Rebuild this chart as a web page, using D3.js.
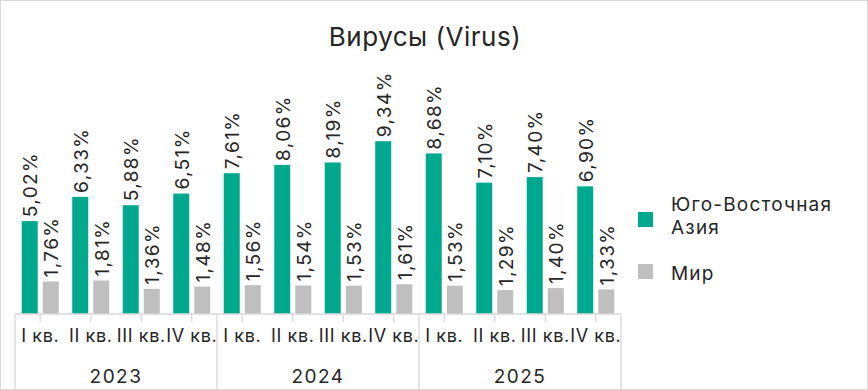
<!DOCTYPE html>
<html>
<head>
<meta charset="utf-8">
<script src="https://cdn.jsdelivr.net/npm/d3@7"></script>
<style>
  body { margin: 0; background: #fff; }
  svg text { font-family: Inter, "Noto Sans", sans-serif; fill: #262626; }
</style>
</head>
<body>
<div id="chart"></div>
<script>
// данные
const years = ["2023", "2024", "2025"];
const quarters = ["I кв.", "II кв.", "III кв.", "IV кв."];
const seaValues = [5.02, 6.33, 5.88, 6.51, 7.61, 8.06, 8.19, 9.34, 8.68, 7.10, 7.40, 6.90];
const worldValues = [1.76, 1.81, 1.36, 1.48, 1.56, 1.54, 1.53, 1.61, 1.53, 1.29, 1.40, 1.33];
const seriesNames = ["Юго-Восточная Азия", "Мир"];
const colors = ["#00a88e", "#bfbfbf"];

const W = 868, H = 390;
const baseY = 314;

// категории: год + квартал
const cats = [];
years.forEach((y, yi) => quarters.forEach((q, qi) => cats.push({ id: y + "-" + qi, year: y, q: q, i: yi * 4 + qi })));

const svg = d3.select("#chart").append("svg")
  .attr("width", W).attr("height", H);

svg.append("rect")
  .attr("x", 0.5).attr("y", 0.5).attr("width", W - 1).attr("height", H - 1)
  .attr("fill", "#fff").attr("stroke", "#d9d9d9");

// заголовок
svg.append("text")
  .attr("x", 425).attr("y", 46)
  .attr("text-anchor", "middle")
  .style("font-size", "26px")
  .style("letter-spacing", "0.5px")
  .text("Вирусы (Virus)");

const x0 = d3.scaleBand().domain(cats.map(c => c.id)).range([15, 621]);
const x1 = d3.scaleBand().domain([0, 1]).range([0, x0.bandwidth()])
  .paddingInner(0.24).paddingOuter(0.32);
const y = d3.scaleLinear().domain([0, 10]).range([baseY, 129]);

const fmt = v => d3.format(".2f")(v).replace(".", ",") + "%";

const groups = svg.append("g").selectAll("g")
  .data(cats).join("g")
  .attr("transform", d => `translate(${x0(d.id)},0)`);

const barData = d => [
  { s: 0, v: seaValues[d.i] },
  { s: 1, v: worldValues[d.i] }
];

groups.selectAll("rect")
  .data(barData).join("rect")
  .attr("x", d => x1(d.s))
  .attr("y", d => y(d.v))
  .attr("width", x1.bandwidth())
  .attr("height", d => baseY - y(d.v))
  .attr("fill", d => colors[d.s]);

groups.selectAll("text.val")
  .data(barData).join("text")
  .attr("class", "val")
  .attr("transform", d => `translate(${x1(d.s) + x1.bandwidth() / 2 + 0.5},${y(d.v) - 4}) rotate(-90)`)
  .attr("dy", "0.36em")
  .style("font-size", "19px")
  .style("letter-spacing", "1.4px")
  .text(d => fmt(d.v));

// ось
const axisG = svg.append("g").attr("stroke", "#d9d9d9").attr("stroke-width", 1.3);
axisG.append("line")
  .attr("x1", 15).attr("x2", 621).attr("y1", baseY).attr("y2", baseY);
// засечки по центру категорий
axisG.selectAll("line.tick")
  .data(cats).join("line")
  .attr("class", "tick")
  .attr("x1", d => x0(d.id) + x0.bandwidth() / 2)
  .attr("x2", d => x0(d.id) + x0.bandwidth() / 2)
  .attr("y1", baseY).attr("y2", baseY + 8);
// разделители лет
axisG.selectAll("line.sep")
  .data(d3.range(years.length + 1)).join("line")
  .attr("class", "sep")
  .attr("x1", i => i < years.length ? x0(cats[i * 4].id) : x0.range()[1])
  .attr("x2", i => i < years.length ? x0(cats[i * 4].id) : x0.range()[1])
  .attr("y1", baseY).attr("y2", H);

svg.append("g").selectAll("text")
  .data(cats).join("text")
  .attr("x", d => x0(d.id) + x0.bandwidth() / 2)
  .attr("y", 342)
  .attr("text-anchor", "middle")
  .style("font-size", "18px")
  .style("letter-spacing", "0.6px")
  .text(d => d.q);

svg.append("g").selectAll("text")
  .data(years).join("text")
  .attr("x", (d, i) => x0(cats[i * 4].id) + x0.bandwidth() * 2)
  .attr("y", 383)
  .attr("text-anchor", "middle")
  .style("font-size", "19px")
  .style("letter-spacing", "1.5px")
  .text(d => d);

// легенда
const legend = svg.append("g").style("font-size", "19px").style("letter-spacing", "1.2px");
legend.append("rect").attr("x", 638).attr("y", 212).attr("width", 15).attr("height", 15).attr("fill", colors[0]);
legend.append("text").attr("x", 671).attr("y", 211).text("Юго-Восточная");
legend.append("text").attr("x", 671).attr("y", 234).text("Азия");
legend.append("rect").attr("x", 638).attr("y", 264).attr("width", 15).attr("height", 15).attr("fill", colors[1]);
legend.append("text").attr("x", 671).attr("y", 280).text(seriesNames[1]);
</script>
</body>
</html>
